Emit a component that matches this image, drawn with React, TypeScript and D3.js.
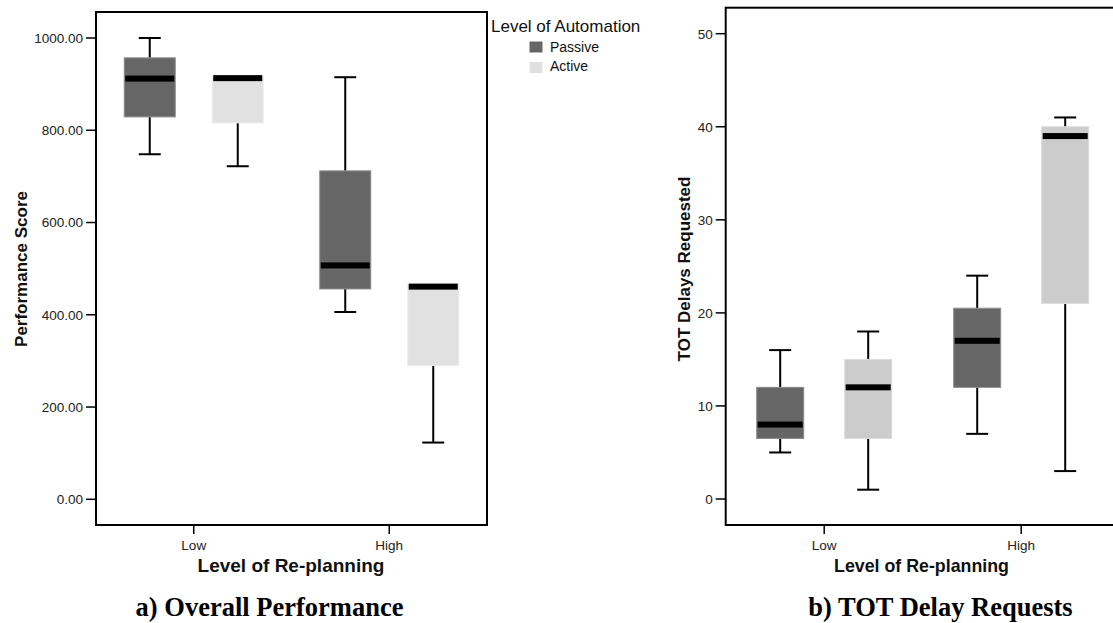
import React from 'react';
import * as d3 from 'd3';

// ---------- data ----------
const categories = ['Low', 'High'];
const groups = ['Passive', 'Active'];
// box stats per category: [min, q1, median, q3, max]
const perfPassive = [[748, 829, 912, 957, 1000], [406, 456, 507, 712, 915]];
const perfActive = [[722, 816, 913, 917, 917], [123, 290, 461, 467, 467]];
const totPassive = [[5, 6.5, 8, 12, 16], [7, 12, 17, 20.5, 24]];
const totActive = [[1, 6.5, 12, 15, 18], [3, 21, 39, 40, 41]];
const perfTicks = [0, 200, 400, 600, 800, 1000];
const totTicks = [0, 10, 20, 30, 40, 50];

const SANS = '"Liberation Sans", Arial, sans-serif';
const SERIF = '"Liberation Serif", "Times New Roman", serif';

type PanelProps = {
  left: number; right: number; top: number; bottom: number;
  yDomain: [number, number]; yRange: [number, number];
  ticks: number[]; fmt: (v: number) => string;
  passive: number[][]; active: number[][];
  boxW: number; activeFill: string; activeStroke: string;
  yTitle: string; yTitleX: number; xTitleSize: number; xTitleX: number;
};

function Panel(p: PanelProps) {
  const x = d3.scaleBand<string>().domain(categories).range([p.left, p.right]).padding(0);
  const bw = x.bandwidth();
  const inner = d3.scalePoint<string>().domain(groups).range([-44, 44]);
  const y = d3.scaleLinear().domain(p.yDomain).range(p.yRange);
  const fills: Record<string, [string, string]> = {
    Passive: ['#666666', '#8c8c8c'],
    Active: [p.activeFill, p.activeStroke],
  };
  const data: Record<string, number[][]> = { Passive: p.passive, Active: p.active };
  const capW = 22;
  return (
    <g>
      {categories.map((c, ci) =>
        groups.map((g) => {
          const [mn, q1, md, q3, mx] = data[g][ci];
          const cx = (x(c) as number) + bw / 2 + (inner(g) as number);
          const [fill, stroke] = fills[g];
          return (
            <g key={c + g}>
              <line x1={cx} x2={cx} y1={y(mx)} y2={y(q3)} stroke="#000" strokeWidth={2} />
              <line x1={cx} x2={cx} y1={y(q1)} y2={y(mn)} stroke="#000" strokeWidth={2} />
              {mx > q3 && <line x1={cx - capW / 2} x2={cx + capW / 2} y1={y(mx)} y2={y(mx)} stroke="#000" strokeWidth={2} />}
              <line x1={cx - capW / 2} x2={cx + capW / 2} y1={y(mn)} y2={y(mn)} stroke="#000" strokeWidth={2} />
              <rect x={cx - p.boxW / 2} y={y(q3)} width={p.boxW} height={y(q1) - y(q3)} fill={fill} stroke={stroke} strokeWidth={1} />
              <rect x={cx - p.boxW / 2 + 1} y={y(md) - 3} width={p.boxW - 2} height={6} fill="#000" />
            </g>
          );
        })
      )}
      {/* frame */}
      <rect x={p.left} y={p.top} width={p.right - p.left} height={p.bottom - p.top} fill="none" stroke="#000" strokeWidth={2} />
      {/* y ticks */}
      {p.ticks.map((t) => (
        <g key={t}>
          <line x1={p.left - 10} x2={p.left} y1={y(t)} y2={y(t)} stroke="#000" strokeWidth={1.5} />
          <text x={p.left - 13} y={y(t)} dy="0.36em" textAnchor="end" fontFamily={SANS} fontSize={13.5} fill="#222">{p.fmt(t)}</text>
        </g>
      ))}
      {/* x ticks */}
      {categories.map((c) => {
        const cx = (x(c) as number) + bw / 2;
        return (
          <g key={c}>
            <line x1={cx} x2={cx} y1={p.bottom} y2={p.bottom + 9} stroke="#000" strokeWidth={1.5} />
            <text x={cx} y={549.5} textAnchor="middle" fontFamily={SANS} fontSize={13.5} fill="#222">{c}</text>
          </g>
        );
      })}
      <text x={p.xTitleX} y={572} textAnchor="middle" fontFamily={SANS} fontWeight="bold" fontSize={p.xTitleSize} fill="#111">Level of Re-planning</text>
      <text transform={`translate(${p.yTitleX},269) rotate(-90)`} textAnchor="middle" fontFamily={SANS} fontWeight="bold" fontSize={17} fill="#111">{p.yTitle}</text>
    </g>
  );
}

export default function App() {
  return (
    <svg width={1113} height={623} style={{ position: 'absolute', left: 0, top: 0, background: '#fff' }}>
      <rect x={0} y={0} width={1113} height={623} fill="#fff" />
      <Panel
        left={96} right={487} top={12} bottom={525}
        yDomain={[0, 1000]} yRange={[499.3, 38]}
        ticks={perfTicks} fmt={(v) => v.toFixed(2)}
        passive={perfPassive} active={perfActive}
        boxW={51} activeFill="#e1e1e1" activeStroke="#ececec"
        yTitle="Performance Score" yTitleX={27} xTitleSize={19} xTitleX={291}
      />
      <Panel
        left={725.7} right={1119.7} top={7.7} bottom={525}
        yDomain={[0, 50]} yRange={[499, 33.7]}
        ticks={totTicks} fmt={(v) => String(v)}
        passive={totPassive} active={totActive}
        boxW={47} activeFill="#cccccc" activeStroke="#dcdcdc"
        yTitle="TOT Delays Requested" yTitleX={690} xTitleSize={17.8} xTitleX={921.5}
      />
      {/* legend */}
      <g fontFamily={SANS}>
        <text x={491} y={31.7} fontSize={17} fill="#111">Level of Automation</text>
        {groups.map((g, i) => (
          <g key={g}>
            <rect x={529.5} y={41.5 + i * 20.5} width={13} height={11} fill={i === 0 ? '#666666' : '#e1e1e1'} />
            <text x={550} y={51.7 + i * 19.5} fontSize={14} fill="#111">{g}</text>
          </g>
        ))}
      </g>
      <text x={269.5} y={616} textAnchor="middle" fontFamily={SERIF} fontWeight="bold" fontSize={26.5} fill="#000">a) Overall Performance</text>
      <text x={940.5} y={616} textAnchor="middle" fontFamily={SERIF} fontWeight="bold" fontSize={26.5} fill="#000">b) TOT Delay Requests</text>
    </svg>
  );
}
